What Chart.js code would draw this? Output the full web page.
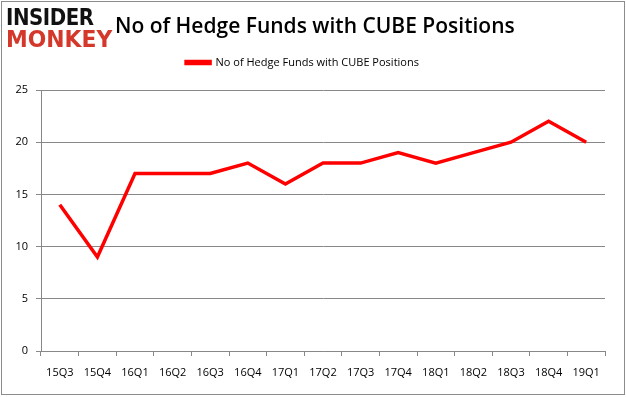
<!DOCTYPE html>
<html>
<head>
<meta charset="utf-8">
<script src="https://cdn.jsdelivr.net/npm/chart.js@4.4.1/dist/chart.umd.min.js"></script>
<style>
  html, body { margin: 0; padding: 0; background: #fff; }
  #wrap { position: relative; width: 626px; height: 397px; overflow: hidden; }
  #frame { position: absolute; left: 1px; top: 1px; width: 622px; height: 392px; border: 1px solid #8c8c8c; pointer-events: none; }
  #logo { position: absolute; left: 6px; top: 6px; font-family: "DejaVu Sans", sans-serif; font-weight: bold; line-height: 22px; }
  #logo .a { color: #111; font-size: 23px; letter-spacing: -0.5px; transform: scaleX(0.86); transform-origin: left; display: block; }
  #logo .b { color: #d4382a; font-size: 23px; letter-spacing: 0px; transform: scaleX(0.95); transform-origin: left; display: block; }
  #title { position: absolute; left: 115px; top: 11px; font-family: "Open Sans", sans-serif; font-weight: 600; font-size: 21px; color: #000; white-space: nowrap; }
  canvas { position: absolute; left: 0; top: 0; }
</style>
</head>
<body>
<div id="wrap">
  <canvas id="cubeChart" width="626" height="397"></canvas>
  <div id="logo"><span class="a">INSIDER</span><span class="b">MONKEY</span></div>
  <div id="title">No of Hedge Funds with CUBE Positions</div>
  <div id="frame"></div>
</div>
<script>
const quarters = ['15Q3', '15Q4', '16Q1', '16Q2', '16Q3', '16Q4', '17Q1', '17Q2', '17Q3', '17Q4', '18Q1', '18Q2', '18Q3', '18Q4', '19Q1'];
const hedgeFunds = [14, 9, 17, 17, 17, 18, 16, 18, 18, 19, 18, 19, 20, 22, 20];
const yTicks = [0, 5, 10, 15, 20, 25];
const seriesName = 'No of Hedge Funds with CUBE Positions';

// push the plot area down below the legend
const legendGap = {
  id: 'legendGap',
  beforeInit(chart) {
    const fit = chart.legend.fit;
    chart.legend.fit = function () {
      fit.bind(chart.legend)();
      this.height += 12;
    };
  }
};

const ctx = document.getElementById('cubeChart').getContext('2d');
new Chart(ctx, {
  type: 'line',
  data: {
    labels: quarters,
    datasets: [{
      label: seriesName,
      data: hedgeFunds,
      borderColor: '#ff0000',
      backgroundColor: '#ff0000',
      borderWidth: 3.5,
      pointRadius: 0,
      tension: 0,
      fill: false
    }]
  },
  plugins: [legendGap],
  options: {
    responsive: false,
    animation: false,
    layout: { padding: { left: 0, right: 21, top: 45, bottom: 4 } },
    plugins: {
      legend: {
        display: true,
        labels: {
          boxWidth: 24,
          boxHeight: 2,
          color: '#000',
          padding: 12,
          font: { family: 'Open Sans', size: 11 }
        }
      },
      tooltip: { enabled: false }
    },
    scales: {
      x: {
        offset: true,
        grid: { display: true, drawOnChartArea: false, offset: true, tickLength: 5, color: '#888' },
        border: { color: '#888' },
        ticks: { color: '#000', padding: 10, maxRotation: 0, font: { family: 'Open Sans', size: 11 } },
        afterFit: (scale) => { scale.height = 42; }
      },
      y: {
        min: 0,
        max: 25,
        afterBuildTicks: (scale) => { scale.ticks = yTicks.map(v => ({ value: v })); },
        grid: { color: '#888', tickLength: 5 },
        border: { color: '#888' },
        ticks: { color: '#000', padding: 8, font: { family: 'Open Sans', size: 11 } },
        afterFit: (scale) => { scale.width = 41; }
      }
    }
  }
});
</script>
</body>
</html>
